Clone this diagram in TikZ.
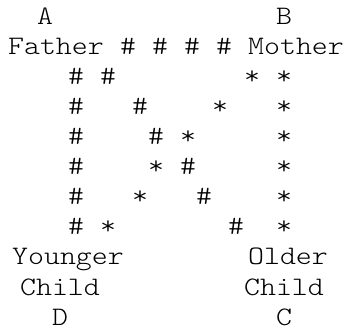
\documentclass[tikz,border=0pt]{standalone}
\usepackage{fontspec}
\setmonofont[FakeStretch=1.14]{Latin Modern Mono Light}
\usetikzlibrary{positioning}
\tikzset{
  lbl/.style={font=\ttfamily\fontsize{20}{24}\selectfont,inner sep=0pt,anchor=base},
  sym/.style={lbl},
  every node/.style={text=black}
}

\begin{document}
\begin{tikzpicture}[x=0.75pt,y=-0.75pt]
\useasboundingbox (0,0) rectangle (346,331);
% names and letters
\node[lbl] (A) at (45,25) {A};
\node[lbl] (B) at (284,25) {B};
\node[lbl] (father) at (56,55) {Father};
\node[lbl] (mother) at (296,55) {Mother};
\node[lbl] (younger) at (68,265) {Younger};
\node[lbl] (child-d) at (60,295) {Child};
\node[lbl] (D) at (60,325) {D};
\node[lbl] (older) at (288,265) {Older};
\node[lbl] (child-c) at (284,295) {Child};
\node[lbl] (C) at (284,325) {C};
% father -- mother
\foreach \x [count=\i] in {128,160,192,224}
  \node[sym] (fm-\i) at (\x,55) {\#};
% outer sides
\foreach \r in {2,...,7}{
  \node[sym] (fd-\r) at (76,25+30*\r) {\#};
  \node[sym] (mc-\r) at (284,25+30*\r) {*};
}
% crossing lines
\foreach \k [count=\r from 2] in {2,4,5,7,8,10}
  \node[sym] (fc-\r) at (76+16*\k,25+30*\r) {\#};
\foreach \k [count=\r from 2] in {11,9,7,5,4,2}
  \node[sym] (md-\r) at (76+16*\k,25+30*\r) {*};
\end{tikzpicture}
\end{document}
